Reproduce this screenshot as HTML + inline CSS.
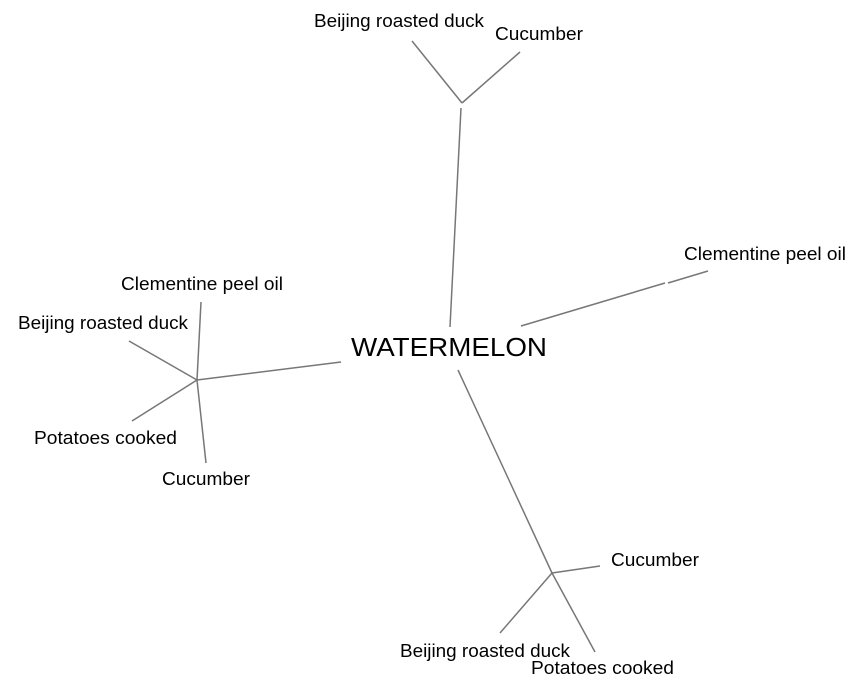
<!DOCTYPE html>
<html><head><meta charset="utf-8"><style>
html,body{margin:0;padding:0;background:#fff;width:864px;height:692px;overflow:hidden}
svg text{font-family:"Liberation Sans",Arial,sans-serif;fill:#000}
</style></head><body>
<svg width="864" height="692" viewBox="0 0 864 692" xmlns="http://www.w3.org/2000/svg">
<g stroke="#777" stroke-width="1.5" fill="none">
<line x1="450" y1="327" x2="461" y2="108"/>
<line x1="462" y1="103" x2="412" y2="41"/>
<line x1="462" y1="103" x2="520" y2="52"/>
<line x1="521" y1="326" x2="665" y2="283"/>
<line x1="668" y1="283" x2="708" y2="271"/>
<line x1="341" y1="362" x2="197" y2="380"/>
<line x1="197" y1="380" x2="201" y2="302"/>
<line x1="197" y1="380" x2="129" y2="341"/>
<line x1="197" y1="380" x2="132" y2="421"/>
<line x1="197" y1="380" x2="206" y2="463"/>
<line x1="458" y1="370" x2="552" y2="573"/>
<line x1="552" y1="573" x2="600" y2="566"/>
<line x1="552" y1="573" x2="500" y2="633"/>
<line x1="552" y1="573" x2="595" y2="652"/>
</g>
<text x="351" y="356" font-size="26" textLength="196" lengthAdjust="spacingAndGlyphs">WATERMELON</text>
<g font-size="18">
<text x="314" y="27" textLength="170" lengthAdjust="spacingAndGlyphs">Beijing roasted duck</text>
<text x="495" y="40" textLength="88" lengthAdjust="spacingAndGlyphs">Cucumber</text>
<text x="684" y="260" textLength="162" lengthAdjust="spacingAndGlyphs">Clementine peel oil</text>
<text x="121" y="290" textLength="162" lengthAdjust="spacingAndGlyphs">Clementine peel oil</text>
<text x="18" y="329" textLength="170" lengthAdjust="spacingAndGlyphs">Beijing roasted duck</text>
<text x="34" y="444" textLength="143" lengthAdjust="spacingAndGlyphs">Potatoes cooked</text>
<text x="162" y="485" textLength="88" lengthAdjust="spacingAndGlyphs">Cucumber</text>
<text x="611" y="566" textLength="88" lengthAdjust="spacingAndGlyphs">Cucumber</text>
<text x="400" y="657" textLength="170" lengthAdjust="spacingAndGlyphs">Beijing roasted duck</text>
<text x="531" y="674" textLength="143" lengthAdjust="spacingAndGlyphs">Potatoes cooked</text>
</g>
</svg>
</body></html>
